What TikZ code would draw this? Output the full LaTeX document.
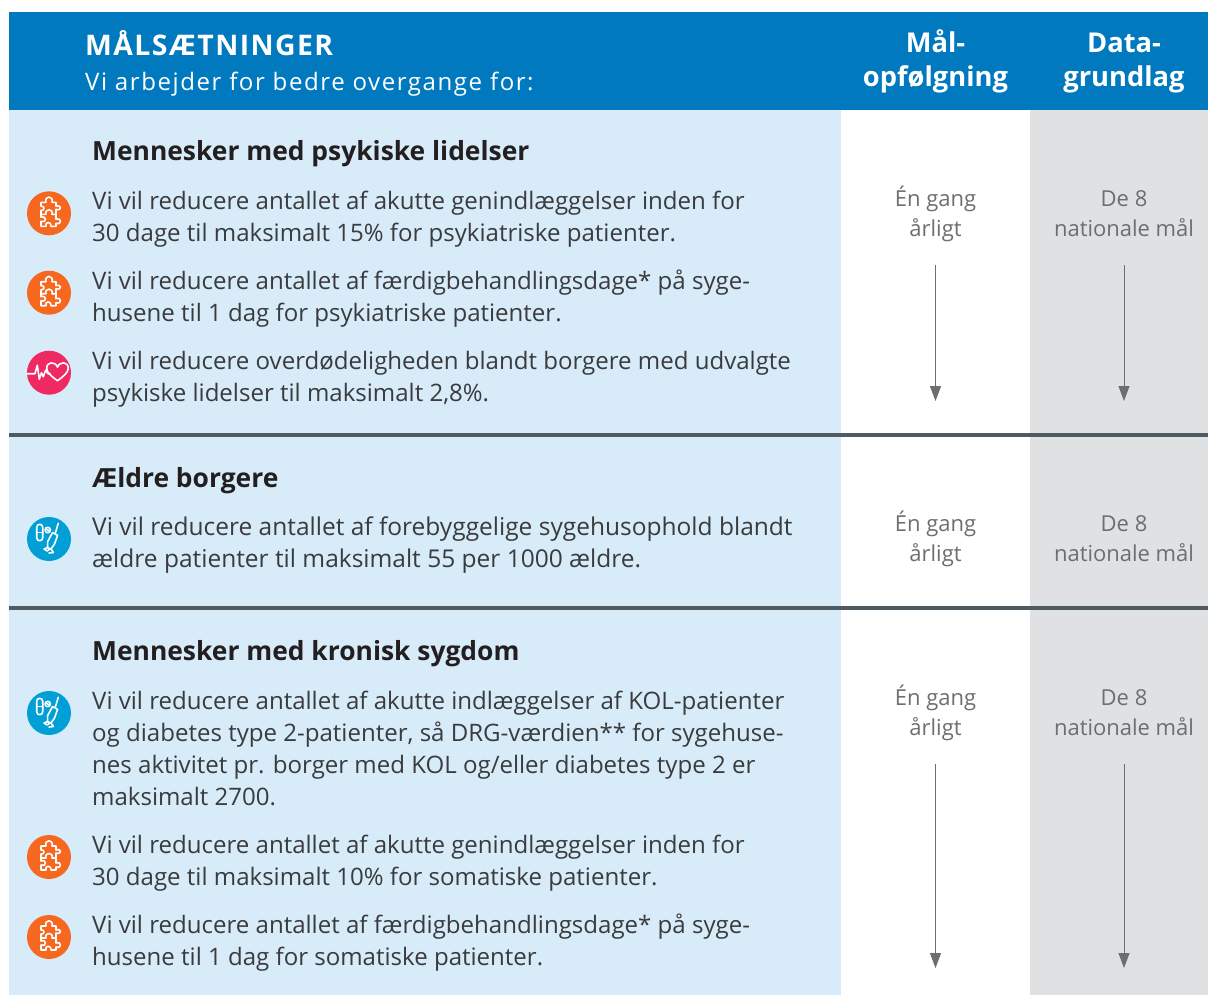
\documentclass[tikz,border=0pt]{standalone}
\usepackage{fontspec}
\setmainfont{Open Sans}
\newfontfamily\spacedfont[LetterSpace=6.5]{Open Sans}
\newfontfamily\headfont[LetterSpace=5]{Open Sans}
\usetikzlibrary{arrows.meta}
\definecolor{hdr}{HTML}{0079BF}
\definecolor{pale}{HTML}{D8EBF9}
\definecolor{greycol}{HTML}{E0E1E3}
\definecolor{rulec}{HTML}{4F5A61}
\definecolor{arrowc}{HTML}{6D6E71}
\definecolor{bodyc}{HTML}{3A3B3D}
\definecolor{headc}{HTML}{231F20}
\definecolor{orangec}{HTML}{F6671F}
\definecolor{pinkc}{HTML}{EF2A62}
\definecolor{cyanc}{HTML}{00A0D6}
\tikzset{
  x=1pt,y=-1pt,
  para/.style={anchor=base west,inner sep=0pt,align=left,text=bodyc,font=\fontsize{24.05}{32}\selectfont},
  parawide/.style={para,font=\fontsize{24.5}{32}\selectfont},
  heading/.style={anchor=base west,inner sep=0pt,text=headc,font=\fontsize{26.4}{32}\selectfont\bfseries},
  sidetext/.style={anchor=base,inner sep=0pt,align=center,text=arrowc,font=\fontsize{22}{29.5}\selectfont},
  coltitle/.style={anchor=base,inner sep=0pt,align=center,text=white,font=\fontsize{27.3}{34}\selectfont\bfseries},
  icon/.style={circle,inner sep=0pt,minimum size=44pt,fill=#1},
  flow/.style={draw=arrowc,line width=1pt,-{Stealth[length=15pt,width=11pt,inset=0pt]}},
  divider/.style={draw=rulec,line width=4pt},
  glyph/.style={draw=white,line width=1.6pt,line join=round,line cap=round},
  puzzle/.pic={
    \path[glyph] (-8,1) -- (-8,-3) .. controls (-4,-2) and (-4,-8) .. (-8,-7) -- (-8,-11) -- (-3,-11)
      .. controls (-5,-18) and (5,-18) .. (3,-11) -- (7,-11) -- (7,-7)
      .. controls (13,-9) and (13,-2) .. (7,-4) -- (7,1) -- (3,1)
      .. controls (5,-5) and (-5,-5) .. (-3,1) -- cycle;
    \path[glyph] (-8,1) -- (-8,4) .. controls (-2,2) and (-2,10) .. (-8,8) -- (-8,13) -- (-3,13)
      .. controls (-5,8) and (3,8) .. (2,13) -- (7,13) -- (7,10)
      .. controls (13,12) and (13,4) .. (7,6) -- (7,1);
  },
  heartbeat/.pic={
    \path[glyph] (-21.5,1) -- (-14,1) -- (-11.7,-7.5) -- (-9.7,6.5) -- (-7.5,0) -- (-5.7,4) -- (-3.3,-2.5) -- (-1,1) -- (1,1);
    \path[glyph] (8.5,8) .. controls (3,4) and (-2.3,0) .. (-2.3,-4.5)
      .. controls (-2.3,-11) and (6,-12) .. (8.5,-5.5)
      .. controls (11,-12) and (19.3,-11) .. (19.3,-4.5)
      .. controls (19.3,0) and (14,4) .. (8.5,8) -- cycle;
  },
  syringe/.pic={
    \path[glyph] (-12.3,-11.7) .. controls (-12.3,-15.7) and (-6.3,-15.7) .. (-6.3,-11.7) -- (-6.3,-1.3)
      .. controls (-6.3,2.7) and (-12.3,2.7) .. (-12.3,-1.3) -- cycle;
    \path[glyph] (-12.3,-6.7) -- (-6.3,-6.7);
    \path[glyph] (-1.3,-9) circle (2.7pt);
    \path[glyph] (-3,-10) -- (0.5,-8);
    \path[glyph] (9.3,-15.7) -- (6.2,-5.5);
    \path[glyph] (3.6,-6.5) -- (8.6,-3.6) -- (5.5,5) -- (2,10) -- (-1.5,8.5) -- (-1.3,2.5) -- cycle;
    \path[glyph] (-5,10) -- (-1,8.5) (-5,10) -- (-2,12) -- (1,10) (2,10) -- (4.5,13.5) -- (0,14);
  },
}
\begin{document}
\begin{tikzpicture}
\useasboundingbox (0,0) rectangle (1208,996);
% panels
\fill[white] (0,0) rectangle (1208,996);
\fill[pale] (9,110) rectangle (841,995);
\fill[greycol] (1030,110) rectangle (1208,995);
\fill[hdr] (9,12) rectangle (1208,110);
% header
\node[anchor=base west,inner sep=0pt,text=white,font=\fontsize{28.4}{32}\selectfont\bfseries\headfont] (title) at (85,55) {MÅLSÆTNINGER};
\node[anchor=base west,inner sep=0pt,text=white,font=\fontsize{24.05}{32}\selectfont\spacedfont] (subtitle) at (85,90) {Vi arbejder for bedre overgange for:};
\node[coltitle] (malhead) at (935.5,86) {Mål-\\opfølgning};
\node[coltitle] (datahead) at (1124,86) {Data-\\grundlag};
% dividers
\coordinate (d1a) at (9,435); \coordinate (d1b) at (1208,435);
\coordinate (d2a) at (9,608); \coordinate (d2b) at (1208,608);
\draw[divider] (d1a) -- (d1b);
\draw[divider] (d2a) -- (d2b);
% section 1
\node[heading] (h1) at (92,160.5) {Mennesker med psykiske lidelser};
\node[para] (p1) at (92,241) {Vi vil reducere antallet af akutte genindlæggelser inden for\\30 dage til maksimalt 15\% for psykiatriske patienter.};
\node[para] (p2) at (92,321) {Vi vil reducere antallet af færdigbehandlingsdage* på syge-\\husene til 1 dag for psykiatriske patienter.};
\node[para] (p3) at (92,401) {Vi vil reducere overdødeligheden blandt borgere med udvalgte\\psykiske lidelser til maksimalt 2,8\%.};
\node[icon=orangec] (i1) at (49,213.3) {}; \pic at (i1) {puzzle};
\node[icon=orangec] (i2) at (49,292.7) {}; \pic at (i2) {puzzle};
\node[icon=pinkc] (i3) at (49,372.7) {}; \pic at (i3) {heartbeat};
\node[sidetext] (s1) at (935.5,236) {Én gang\\årligt};
\node[sidetext] (g1) at (1124,236) {De 8\\nationale mål};
\coordinate (a1t) at (935.5,265); \coordinate (a1b) at (935.5,401);
\coordinate (b1t) at (1124,265); \coordinate (b1b) at (1124,401);
\draw[flow] (a1t) -- (a1b);
\draw[flow] (b1t) -- (b1b);
% section 2
\node[heading] (h2) at (92,487) {Ældre borgere};
\node[parawide] (p4) at (92,567) {Vi vil reducere antallet af forebyggelige sygehusophold blandt\\ældre patienter til maksimalt 55 per 1000 ældre.};
\node[icon=cyanc] (i4) at (49,539) {}; \pic at (i4) {syringe};
\node[sidetext] (s2) at (935.5,561) {Én gang\\årligt};
\node[sidetext] (g2) at (1124,561) {De 8\\nationale mål};
% section 3
\node[heading] (h3) at (92,660.5) {Mennesker med kronisk sygdom};
\node[para] (p5) at (92,805) {Vi vil reducere antallet af akutte indlæggelser af KOL-patienter\\og diabetes type 2-patienter, så DRG-værdien** for sygehuse-\\nes aktivitet pr. borger med KOL og/eller diabetes type 2 er\\maksimalt 2700.};
\node[para] (p6) at (92,885) {Vi vil reducere antallet af akutte genindlæggelser inden for\\30 dage til maksimalt 10\% for somatiske patienter.};
\node[para] (p7) at (92,965) {Vi vil reducere antallet af færdigbehandlingsdage* på syge-\\husene til 1 dag for somatiske patienter.};
\node[icon=cyanc] (i5) at (49,713) {}; \pic at (i5) {syringe};
\node[icon=orangec] (i6) at (49,857) {}; \pic at (i6) {puzzle};
\node[icon=orangec] (i7) at (49,937) {}; \pic at (i7) {puzzle};
\node[sidetext] (s3) at (935.5,735) {Én gang\\årligt};
\node[sidetext] (g3) at (1124,735) {De 8\\nationale mål};
\coordinate (a3t) at (935.5,764); \coordinate (a3b) at (935.5,968);
\coordinate (b3t) at (1124,764); \coordinate (b3b) at (1124,968);
\draw[flow] (a3t) -- (a3b);
\draw[flow] (b3t) -- (b3b);
\end{tikzpicture}
\end{document}
